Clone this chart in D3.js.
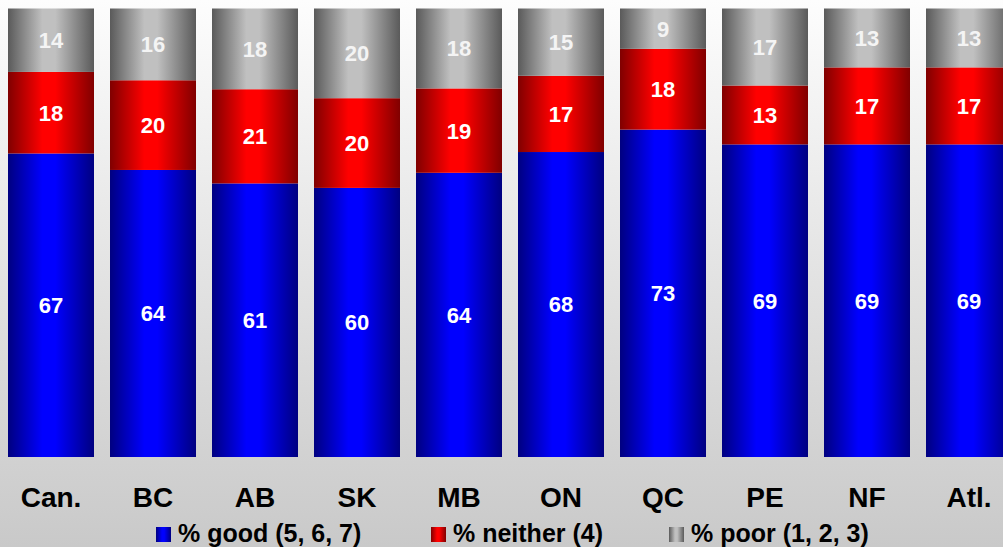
<!DOCTYPE html>
<html><head><meta charset="utf-8">
<script src="https://cdn.jsdelivr.net/npm/d3@7"></script>
<style>html,body{margin:0;padding:0;overflow:hidden;}svg{display:block;}</style>
</head><body>
<svg id="chart" width="1003" height="547"></svg>
<script>
const categories = ["Can.", "BC", "AB", "SK", "MB", "ON", "QC", "PE", "NF", "Atl."];
const good    = [67, 64, 61, 60, 64, 68, 73, 69, 69, 69];
const neither = [18, 20, 21, 20, 19, 17, 18, 13, 17, 17];
const poor    = [14, 16, 18, 20, 18, 15, 9, 17, 13, 13];
const seriesNames = ["% good (5, 6, 7)", "% neither (4)", "% poor (1, 2, 3)"];

const W = 1003, H = 547;
const svg = d3.select("#chart");
const defs = svg.append("defs");

const bg = defs.append("linearGradient").attr("id","bg").attr("x1",0).attr("y1",0).attr("x2",0).attr("y2",1);
bg.append("stop").attr("offset","0%").attr("stop-color","#fdfdfd");
bg.append("stop").attr("offset","100%").attr("stop-color","#c9c9c9");
svg.append("rect").attr("width",W).attr("height",H).attr("fill","url(#bg)");

const palettes = [["#000080","#0000ff"],["#800000","#ff0000"],["#5a5a5a","#c0c0c0"]];
palettes.forEach((p,i)=>{
  const g = defs.append("linearGradient").attr("id","g"+i).attr("x1",0).attr("y1",0).attr("x2",1).attr("y2",0);
  g.append("stop").attr("offset","0%").attr("stop-color",p[0]);
  g.append("stop").attr("offset","40%").attr("stop-color",p[1]);
  g.append("stop").attr("offset","55%").attr("stop-color",p[1]);
  g.append("stop").attr("offset","100%").attr("stop-color",p[0]);
});

const rows = categories.map((c,i)=>{
  const t = good[i]+neither[i]+poor[i];
  return {cat:c, good:good[i]/t, neither:neither[i]/t, poor:poor[i]/t, raw:[good[i],neither[i],poor[i]]};
});
const keys = ["good","neither","poor"];
const stack = d3.stack().keys(keys)(rows);

const x = d3.scaleBand().domain(categories).range([0,1020]).paddingInner(16/102).paddingOuter(8/102);
const y = d3.scaleLinear().domain([0,1]).range([457,8.5]);

stack.forEach((layer,li)=>{
  const g = svg.append("g");
  g.selectAll("rect").data(layer).join("rect")
    .attr("x",d=>x(d.data.cat)).attr("width",x.bandwidth())
    .attr("y",d=>y(d[1])).attr("height",d=>y(d[0])-y(d[1]))
    .attr("fill","url(#g"+li+")");
  g.selectAll("text").data(layer).join("text")
    .attr("x",d=>x(d.data.cat)+x.bandwidth()/2)
    .attr("y",d=>(y(d[0])+y(d[1]))/2)
    .attr("dy","0.36em")
    .attr("text-anchor","middle")
    .attr("font-family","Liberation Sans, Arial, sans-serif")
    .attr("font-weight","bold").attr("font-size",22)
    .attr("fill", li===2 ? "#f4f4f4" : "#ffffff")
    .text(d=>d.data.raw[li]);
});

const xAxis = d3.axisBottom(x).tickSize(0).tickPadding(0);
const ax = svg.append("g").attr("transform","translate(0,487)").call(xAxis);
ax.select(".domain").remove();
ax.selectAll("text").attr("font-family","Liberation Sans, Arial, sans-serif")
  .attr("font-weight","bold").attr("font-size",28).attr("fill","#000").attr("dy","0.71em");

const legX = [156, 431, 669];
const leg = svg.append("g");
seriesNames.forEach((n,i)=>{
  leg.append("rect").attr("x",legX[i]).attr("y",527).attr("width",15).attr("height",15).attr("fill","url(#g"+i+")");
  leg.append("text").attr("x",legX[i]+22).attr("y",542)
    .attr("font-family","Liberation Sans, Arial, sans-serif")
    .attr("font-weight","bold").attr("font-size",25).attr("fill","#000").text(n);
});
</script>
</body></html>
